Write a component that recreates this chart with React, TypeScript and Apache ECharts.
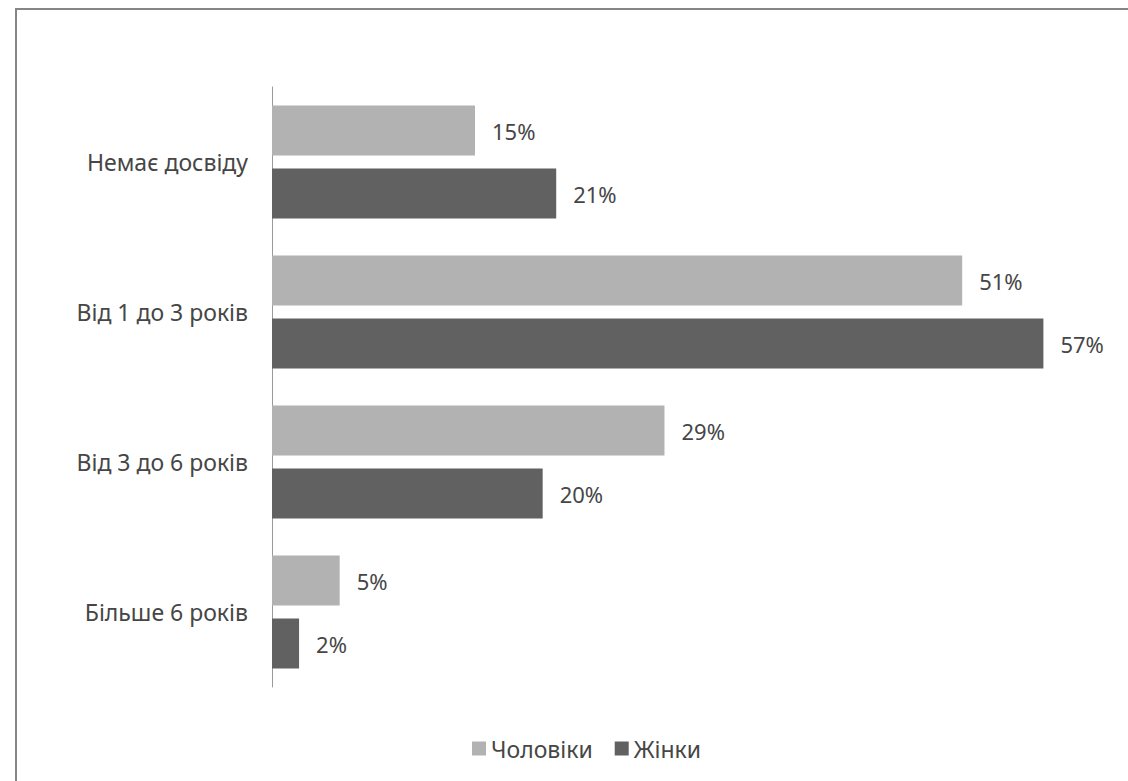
import React, { useEffect, useRef } from "react";
import * as echarts from "echarts";

const categories = ["Немає досвіду", "Від 1 до 3 років", "Від 3 до 6 років", "Більше 6 років"];
const seriesNames = ["Чоловіки", "Жінки"];
const men = [15, 51, 29, 5];
const women = [21, 57, 20, 2];

const FONT = "'Noto Sans', 'Open Sans', sans-serif";
const FS = 23;
const FS_VAL = 22;
const TEXT = "#464646";

export default function App() {
  const ref = useRef<HTMLDivElement>(null);
  useEffect(() => {
    if (!ref.current) return;
    const chart = echarts.init(ref.current, null, { renderer: "svg" });
    const labelStyle = {
      show: true,
      position: "right" as const,
      distance: 17,
      formatter: "{c}%",
      color: TEXT,
      fontSize: FS_VAL,
      fontFamily: FONT,
    };
    chart.setOption({
      animation: false,
      backgroundColor: "#ffffff",
      graphic: [
        {
          type: "rect",
          shape: { x: 16, y: 9, width: 1300, height: 900 },
          style: { fill: "none", stroke: "#858585", lineWidth: 2 },
          silent: true,
        },
      ],
      legend: {
        data: seriesNames,
        left: 467,
        top: 732,
        itemWidth: 14,
        itemHeight: 14,
        itemGap: 22,
        icon: "rect",
        textStyle: { color: TEXT, fontSize: FS, fontFamily: FONT },
      },
      grid: { left: 272, top: 87, width: 812, height: 600 },
      xAxis: {
        type: "value",
        min: 0,
        max: 60,
        show: false,
      },
      yAxis: {
        type: "category",
        data: categories,
        inverse: true,
        axisLine: { show: true, lineStyle: { color: "#9a9a9a", width: 1 } },
        axisTick: { show: false },
        axisLabel: { color: TEXT, fontSize: FS, fontFamily: FONT, margin: 24 },
        splitLine: { show: false },
      },
      series: [
        {
          name: seriesNames[0],
          type: "bar",
          data: men,
          barWidth: 50,
          barGap: "26%",
          itemStyle: { color: "#b2b2b2" },
          label: labelStyle,
        },
        {
          name: seriesNames[1],
          type: "bar",
          data: women,
          barWidth: 50,
          barGap: "26%",
          itemStyle: { color: "#616161" },
          label: labelStyle,
        },
      ],
    });
    return () => chart.dispose();
  }, []);
  return <div ref={ref} style={{ width: 1128, height: 781, position: "absolute", left: 0, top: 0 }} />;
}
